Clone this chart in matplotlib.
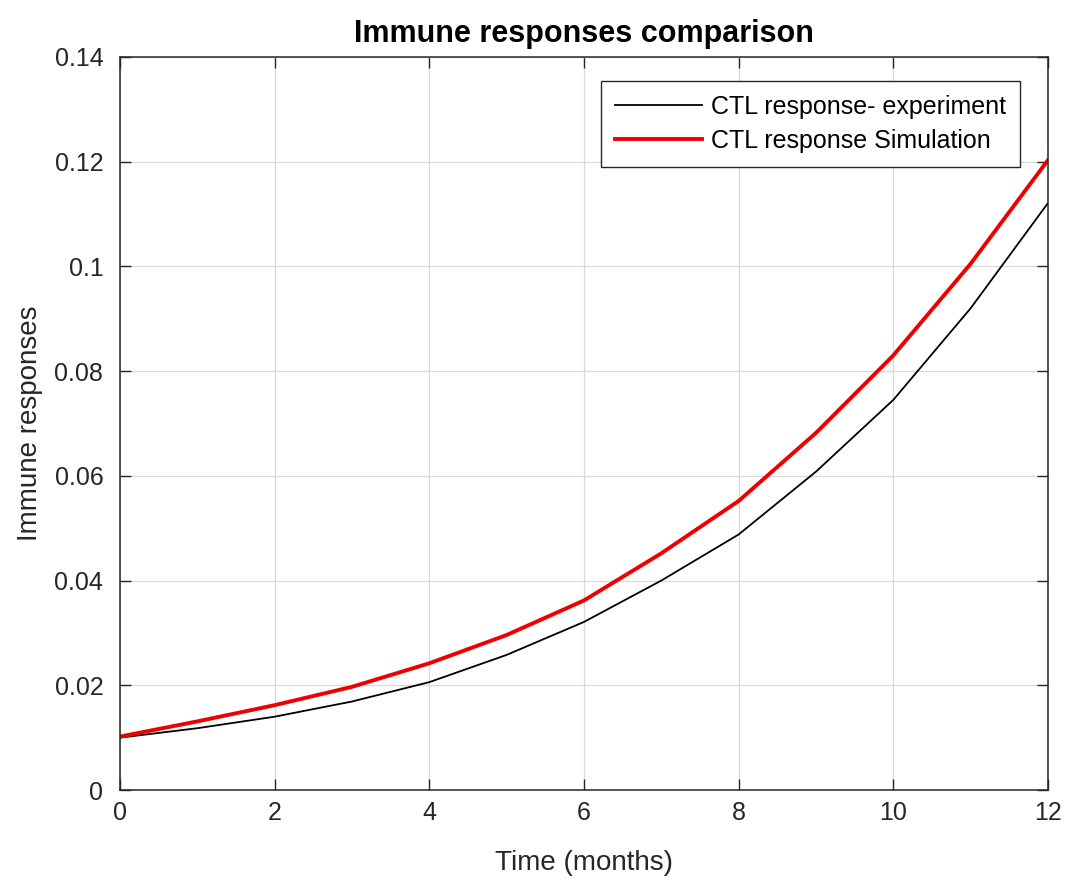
import matplotlib
matplotlib.use("Agg")
import matplotlib.pyplot as plt

# values (months, response)
months = [0, 1, 2, 3, 4, 5, 6, 7, 8, 9, 10, 11, 12]
ctl_experiment = [0.0100, 0.0118, 0.0140, 0.0169, 0.0206, 0.0258, 0.0321, 0.0400, 0.0488, 0.0608, 0.0745, 0.0920, 0.1121]
ctl_simulation = [0.0102, 0.0131, 0.0162, 0.0197, 0.0242, 0.0296, 0.0362, 0.0452, 0.0552, 0.0682, 0.0830, 0.1005, 0.1203]

plt.rcParams['font.family'] = ['Liberation Sans', 'DejaVu Sans']

fig = plt.figure(figsize=(10.7, 8.82), dpi=100)
ax = fig.add_axes([0.1121, 0.1043, 0.8673, 0.8311])

ax.plot(months, ctl_experiment, color='black', lw=1.3, label='CTL response- experiment')
ax.plot(months, ctl_simulation, color='#ee0000', lw=2.8, label='CTL response Simulation')

ax.set_xlim(0, 12)
ax.set_ylim(0, 0.14)
ax.set_xticks([0, 2, 4, 6, 8, 10, 12])
ax.set_yticks([0, 0.02, 0.04, 0.06, 0.08, 0.1, 0.12, 0.14])
ax.set_yticklabels(['0', '0.02', '0.04', '0.06', '0.08', '0.1', '0.12', '0.14'])

ax.grid(True, color='#d9d9d9', lw=0.9)
ax.set_axisbelow(True)
ax.tick_params(direction='in', top=True, right=True, length=8, width=1,
               labelsize=18, colors='#262626')
ax.tick_params(axis='y', pad=12)
ax.tick_params(axis='x', pad=8)
for s in ax.spines.values():
    s.set_color('#262626')
    s.set_linewidth(1.1)

ax.set_xlabel('Time (months)', fontsize=20, color='#262626', labelpad=18)
ax.set_ylabel('Immune responses', fontsize=20, color='#262626', labelpad=8)
ax.set_title('Immune responses comparison', fontsize=22, fontweight='bold', pad=11)

leg = ax.legend(loc='upper right', bbox_to_anchor=(0.970, 0.967), borderaxespad=0,
                fontsize=18, fancybox=False, framealpha=1, edgecolor='#262626',
                handlelength=3.5, handletextpad=0.36, borderpad=0.55, labelspacing=0.4)
leg.get_frame().set_linewidth(1.0)

fig.savefig('out.png', dpi=100)
